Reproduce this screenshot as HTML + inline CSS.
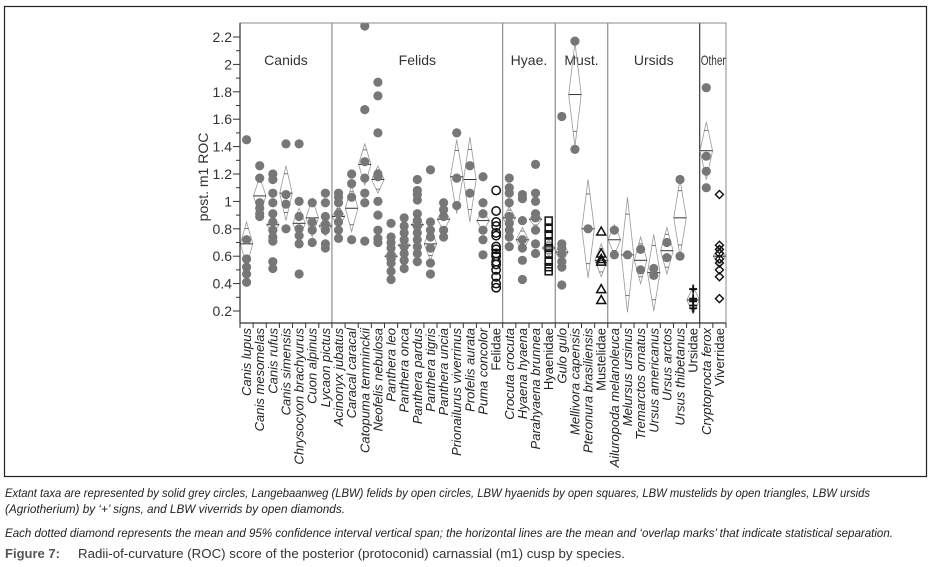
<!DOCTYPE html>
<html><head><meta charset="utf-8"><style>
html,body{margin:0;padding:0;background:#fff;}
svg{display:block;font-family:"Liberation Sans",sans-serif;}
</style></head><body>
<svg id="fig" width="931" height="567" viewBox="0 0 931 567">
<rect x="4.5" y="6.5" width="922" height="470" fill="none" stroke="#222" stroke-width="1.2"/>
<g id="plot"></g>
<g font-style="italic" font-size="11.5" fill="#222">
<text x="5" y="497" textLength="865" lengthAdjust="spacingAndGlyphs">Extant taxa are represented by solid grey circles, Langebaanweg (LBW) felids by open circles, LBW hyaenids by open squares, LBW mustelids by open triangles, LBW ursids</text>
<text x="5" y="513" textLength="340" lengthAdjust="spacingAndGlyphs">(Agriotherium) by ‘+’ signs, and LBW viverrids by open diamonds.</text>
<text x="5" y="537" textLength="888" lengthAdjust="spacingAndGlyphs">Each dotted diamond represents the mean and 95% confidence interval vertical span; the horizontal lines are the mean and ‘overlap marks’ that indicate statistical separation.</text>
</g>
<text x="5" y="558" font-size="13" font-weight="bold" fill="#555" textLength="55" lengthAdjust="spacingAndGlyphs">Figure 7:</text>
<text x="78" y="558" font-size="13" fill="#333" textLength="547" lengthAdjust="spacingAndGlyphs">Radii-of-curvature (ROC) score of the posterior (protoconid) carnassial (m1) cusp by species.</text>
</svg>
<script>
const categories=["Canis lupus","Canis mesomelas","Canis rufus","Canis simensis","Chrysocyon brachyurus","Cuon alpinus","Lycaon pictus","Acinonyx jubatus","Caracal caracal","Catopuma temminckii","Neofelis nebulosa","Panthera leo","Panthera onca","Panthera pardus","Panthera tigris","Panthera uncia","Prionailurus viverrinus","Profelis aurata","Puma concolor","Felidae","Crocuta crocuta","Hyaena hyaena","Parahyaena brunnea","Hyaenidae","Gulo gulo","Mellivora capensis","Pteronura brasiliensis","Mustelidae","Ailuropoda melanoleuca","Melursus ursinus","Tremarctos ornatus","Ursus americanus","Ursus arctos","Ursus thibetanus","Ursidae","Cryptoprocta ferox","Viverridae"];
const markers=["c","c","c","c","c","c","c","c","c","c","c","c","c","c","c","c","c","c","c","oc","c","c","c","sq","c","c","c","tri","c","c","c","c","c","c","plus","c","dia"];
const values=[
[1.45,0.72,0.58,0.52,0.47,0.41],
[1.26,1.17,0.99,0.95,0.91,0.89],
[1.2,1.16,1.06,0.99,0.91,0.85,0.79,0.74,0.71,0.56,0.51],
[1.42,1.05,0.98,0.8],
[1.42,1.0,0.89,0.8,0.75,0.69,0.47],
[0.99,0.85,0.79,0.7],
[1.06,0.99,0.89,0.83,0.79,0.69,0.66],
[1.06,1.03,0.99,0.91,0.85,0.79,0.73],
[1.2,1.13,1.03,0.72],
[2.28,1.67,1.29,1.17,1.06,0.99,0.71],
[1.87,1.77,1.5,1.2,1.18,1.0,0.9,0.79,0.73,0.7],
[0.84,0.74,0.7,0.66,0.61,0.58,0.55,0.49,0.43],
[0.88,0.82,0.77,0.72,0.67,0.62,0.57,0.51],
[1.16,1.08,1.05,1.01,0.91,0.86,0.82,0.77,0.72,0.67,0.62,0.56],
[1.23,0.85,0.79,0.74,0.66,0.55,0.47],
[0.99,0.94,0.89,0.79,0.74],
[1.5,1.17,0.97],
[1.26,1.06],
[1.18,0.99,0.91,0.79,0.72,0.61],
[1.08,0.93,0.85,0.82,0.77,0.75,0.67,0.65,0.62,0.6,0.56,0.54,0.5,0.45,0.4,0.37],
[1.17,1.1,1.06,0.99,0.89,0.84,0.79,0.74,0.67],
[1.05,1.02,0.86,0.72,0.66,0.57,0.43],
[1.27,1.06,1.0,0.91,0.88,0.79,0.69,0.62],
[0.86,0.8,0.76,0.7,0.66,0.62,0.56,0.52,0.49],
[1.62,0.69,0.66,0.62,0.56,0.52,0.39],
[2.17,1.38],
[0.8],
[0.78,0.62,0.58,0.56,0.36,0.28],
[0.79,0.61],
[0.61],
[0.65,0.5],
[0.51,0.46],
[0.7,0.59],
[1.16,0.6],
[0.36,0.29,0.27,0.24,0.22],
[1.83,1.33,1.22,1.1],
[1.05,0.68,0.65,0.62,0.58,0.55,0.5,0.45,0.29]];
const means=[0.69,1.04,0.83,1.06,0.84,0.88,0.82,0.89,0.95,1.27,1.16,0.6,0.68,0.83,0.69,0.87,1.18,1.16,0.86,null,0.88,0.72,0.87,0.66,0.63,1.78,0.8,0.57,0.72,0.61,0.57,0.48,0.64,0.88,0.28,1.37,0.6];
const halfCI=[0.16,0.14,0.06,0.2,0.11,0.14,0.07,0.08,0.17,0.15,0.1,0.055,0.04,0.05,0.12,0.085,0.27,0.31,0.08,null,0.08,0.09,0.06,0.06,0.08,0.38,0.36,0.12,0.11,0.42,0.17,0.28,0.17,0.28,0.1,0.21,0.07];
const yTicks=[0.2,0.4,0.6,0.8,1,1.2,1.4,1.6,1.8,2,2.2];
const groupNames=["Canids","Felids","Hyae.","Must.","Ursids","Other"];
const groupStarts=[0,7,20,24,28,35];

const NS="http://www.w3.org/2000/svg";
const L=240,R=726,T=23,B=323;
const step=(R-L)/categories.length;
function X(i){return L+step*(i+0.5);}
function Y(v){return 311-(v-0.2)*137;}
const g=document.getElementById('plot');
function mk(tag,attrs,parent){const e=document.createElementNS(NS,tag);for(const k in attrs)e.setAttribute(k,attrs[k]);(parent||g).appendChild(e);return e;}

const clip=mk('clipPath',{id:'pc'});mk('rect',{x:L,y:T,width:R-L,height:B-T},clip);
const inner=mk('g',{'clip-path':'url(#pc)'});



groupStarts.forEach((s,k)=>{
  if(s>0){const ln=mk('line',{x1:L+step*s,x2:L+step*s,y1:T,y2:B,stroke:k===5?'#111':'#777','stroke-width':1},inner);
    
    }
  const e=k<5?groupStarts[k+1]:categories.length;
  const cx=(L+step*s+L+step*e)/2;
  const attrs={x:k===5?L+step*s+1:cx,y:65,'font-size':14,'text-anchor':k===5?'start':'middle',fill:'#333'};
  if(k===5){attrs.textLength=25;attrs.lengthAdjust='spacingAndGlyphs';}
  const t=mk('text',attrs,inner);
  t.textContent=groupNames[k];
  
  
});

categories.forEach((c,i)=>{
  if(means[i]==null)return;
  const m=means[i],h=halfCI[i],x=X(i),w=step/2-0.3;
  const d=mk('polygon',{points:`${x},${Y(m+h)} ${x+w},${Y(m)} ${x},${Y(m-h)} ${x-w},${Y(m)}`,fill:'none',stroke:'#999','stroke-width':0.8},inner);
  
  
  const ml=mk('line',{x1:x-w,x2:x+w,y1:Y(m),y2:Y(m),stroke:'#333','stroke-width':1},inner);
  
  
  [1,-1].forEach(sg=>{const o=m+sg*h*0.707;const ww=w*0.293;
    const ol=mk('line',{x1:x-ww,x2:x+ww,y1:Y(o),y2:Y(o),stroke:'#555','stroke-width':0.8},inner);
    
    });
});

categories.forEach((c,i)=>{
  const x=X(i);
  values[i].forEach(v=>{
    const y=Y(v);let e;
    const t=markers[i];
    if(t==='c')e=mk('circle',{cx:x,cy:y,r:4.6,fill:'#777'},inner);
    else if(t==='oc')e=mk('circle',{cx:x,cy:y,r:4.2,fill:'none',stroke:'#111','stroke-width':1.5},inner);
    else if(t==='sq')e=mk('rect',{x:x-3.5,y:y-3.5,width:7,height:7,fill:'none',stroke:'#111','stroke-width':1.5},inner);
    else if(t==='tri')e=mk('polygon',{points:`${x},${y-4.5} ${x+4.5},${y+3.5} ${x-4.5},${y+3.5}`,fill:'none',stroke:'#111','stroke-width':1.5},inner);
    else if(t==='plus')e=mk('path',{d:`M${x-4},${y}H${x+4}M${x},${y-4.5}V${y+4.5}`,stroke:'#111','stroke-width':1.8},inner);
    else e=mk('polygon',{points:`${x},${y-4} ${x+4},${y} ${x},${y+4} ${x-4},${y}`,fill:'none',stroke:'#111','stroke-width':1.4},inner);
    
    
  });
});

const fr=mk('rect',{x:L,y:T,width:R-L,height:B-T,fill:'none',stroke:'#888','stroke-width':1});


const xa=mk('line',{x1:L,x2:R,y1:B,y2:B,stroke:'#333','stroke-width':1.2});


const ya=mk('line',{x1:L,x2:L,y1:T,y2:B,stroke:'#333','stroke-width':1.2});



yTicks.forEach((v,k)=>{
  const y=Y(v);
  const tk=mk('line',{x1:L-7,x2:L,y1:y,y2:y,stroke:'#333'});
  
  
  const t=mk('text',{x:L-8,y:y+5,'font-size':14,'text-anchor':'end',fill:'#333'});
  t.textContent=String(v);
  
  
  if(k<yTicks.length-1){const ym=Y(v+0.1);
    const mt=mk('line',{x1:L-4,x2:L,y1:ym,y2:ym,stroke:'#333'});
    
    }
});
const yt=mk('text',{x:0,y:0,'font-size':14,'text-anchor':'middle',fill:'#333',transform:'translate(208,177) rotate(-90)'});
yt.textContent='post. m1 ROC';



for(let k=0;k<=categories.length;k++){
  const x=L+step*k;
  const tk=mk('line',{x1:x,x2:x,y1:B,y2:B+5,stroke:'#333'});
  
  
}
categories.forEach((c,i)=>{
  const x=X(i)+4.5;
  const t=mk('text',{x:0,y:0,'font-size':13,'font-style':markers[i]==='c'?'italic':'normal','text-anchor':'end',fill:'#222',transform:`translate(${x},328) rotate(-90)`});
  t.textContent=c;
  
  
});
</script>
</body></html>
